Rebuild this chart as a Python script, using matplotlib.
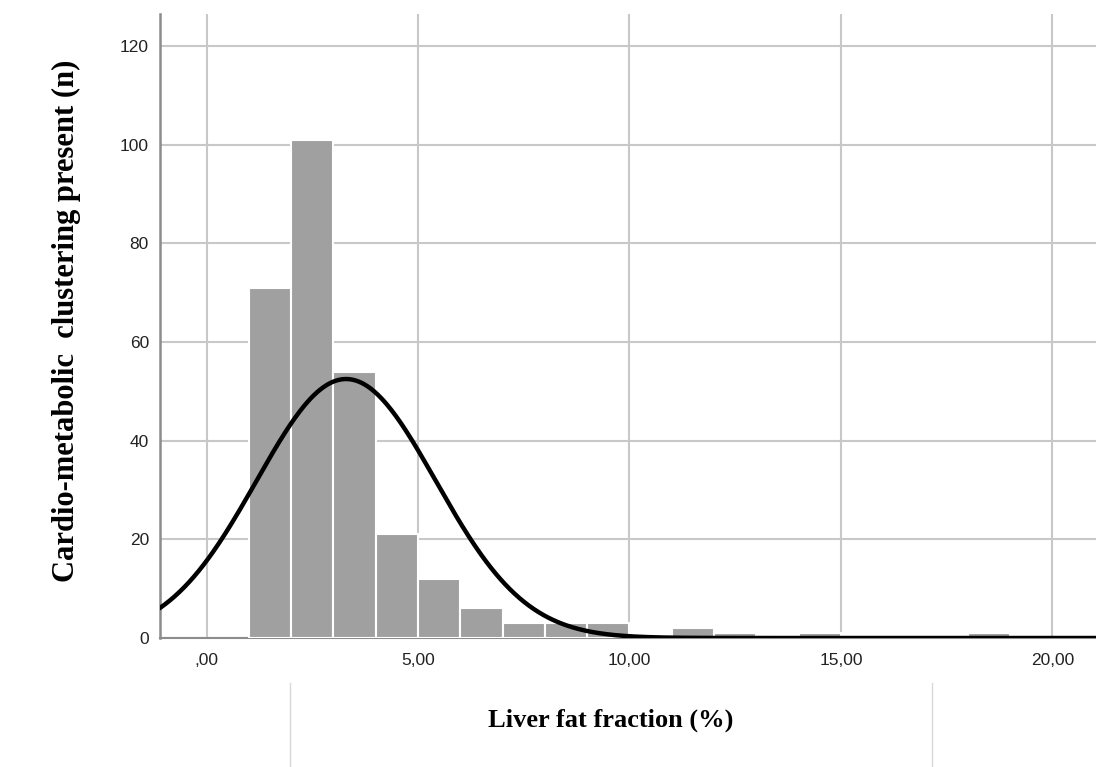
import numpy as np
import matplotlib
matplotlib.use("Agg")
import matplotlib.pyplot as plt
from matplotlib.lines import Line2D

# Data
bin_edges = [1, 2, 3, 4, 5, 6, 7, 8, 9, 10, 11, 12, 13, 14, 15, 16, 17, 18, 19]
counts = [71, 101, 54, 21, 12, 6, 3, 3, 3, 0, 2, 1, 0, 1, 0, 0, 0, 1]
curve_mean = 3.3
curve_sd = 2.12
xticks = [0, 5, 10, 15, 20]
xtick_labels = [",00", "5,00", "10,00", "15,00", "20,00"]
yticks = [0, 20, 40, 60, 80, 100, 120]

W, H = 1096, 767
fig = plt.figure(figsize=(W / 100, H / 100), dpi=100)
ax = fig.add_axes([160 / W, 1 - 638 / H, (W - 160) / W, (638 - 14) / H])

lefts = np.array(bin_edges[:-1], dtype=float)
widths = np.diff(bin_edges)
ax.bar(lefts, counts, width=widths, align="edge", color="#a0a0a0",
       edgecolor="white", linewidth=1.5, zorder=3)

n_total = sum(counts)
xs = np.linspace(-1.2, 21.2, 600)
ys = n_total * 1.0 / (curve_sd * np.sqrt(2 * np.pi)) * np.exp(-0.5 * ((xs - curve_mean) / curve_sd) ** 2)
ax.plot(xs, ys, color="black", linewidth=3.2, zorder=4, solid_capstyle="butt")

ax.set_xlim(-1.1, 21.03)
ax.set_ylim(0, 126.5)
ax.set_xticks(xticks)
ax.set_xticklabels(xtick_labels)
ax.set_yticks(yticks)
ax.grid(True, color="#c8c8c8", linewidth=1.5, zorder=0)
ax.set_axisbelow(True)
for s in ["top", "right"]:
    ax.spines[s].set_visible(False)
ax.spines["left"].set_color("#8c8c8c")
ax.spines["left"].set_linewidth(1.8)
ax.spines["bottom"].set_color("#8c8c8c")
ax.spines["bottom"].set_linewidth(1.5)
ax.tick_params(axis="both", length=0, labelsize=12.5, colors="#222222",
               labelfontfamily="Liberation Sans")
ax.tick_params(axis="x", pad=11)
ax.tick_params(axis="y", pad=8)

fig.text(66 / W, 1 - 321 / H, "Cardio-metabolic  clustering present (n)",
         rotation=90, ha="center", va="center",
         family="Liberation Serif", weight="bold", size=22)
fig.text(611 / W, 1 - 720 / H, "Liver fat fraction (%)",
         ha="center", va="center",
         family="Liberation Serif", weight="bold", size=19)

# faint frame lines below the plot area
fig.add_artist(Line2D([290 / W, 290 / W], [0, 1 - 683 / H], color="#d8d8d8", linewidth=1))
fig.add_artist(Line2D([932 / W, 932 / W], [0, 1 - 683 / H], color="#d8d8d8", linewidth=1))

fig.savefig("out.png", dpi=100)
